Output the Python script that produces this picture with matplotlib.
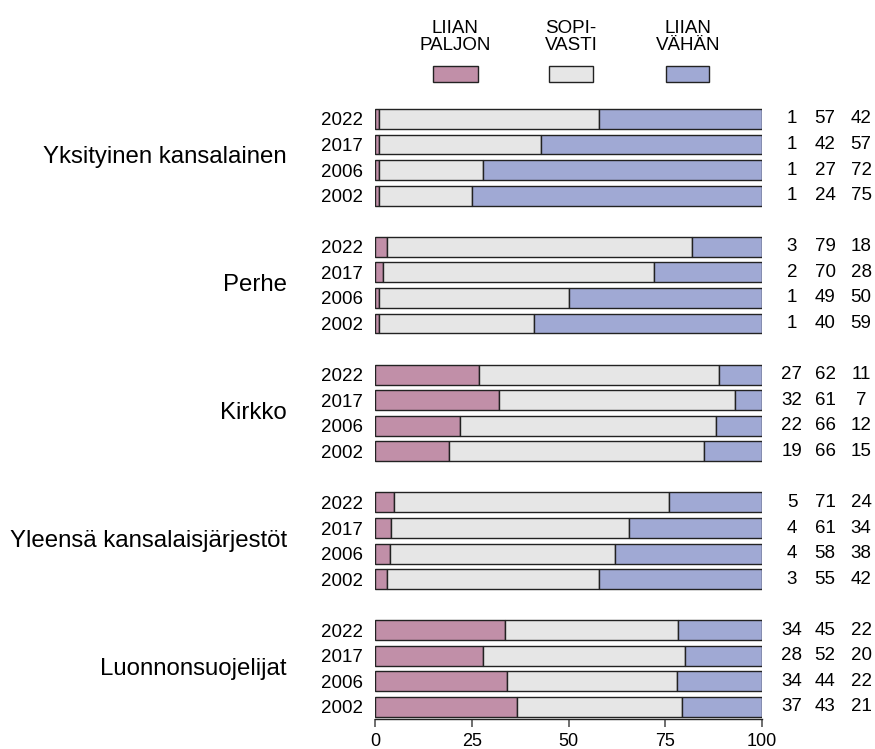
import matplotlib
matplotlib.use('Agg')
import matplotlib.pyplot as plt
from matplotlib.patches import Rectangle
from matplotlib.transforms import blended_transform_factory

plt.rcParams['font.family'] = ['Liberation Sans', 'DejaVu Sans']

# data, top to bottom
groups = ['Yksityinen kansalainen', 'Perhe', 'Kirkko',
          'Yleensä kansalaisjärjestöt', 'Luonnonsuojelijat']
years = ['2022', '2017', '2006', '2002']
too_much = [[1, 1, 1, 1], [3, 2, 1, 1], [27, 32, 22, 19],
            [5, 4, 4, 3], [34, 28, 34, 37]]
just_right = [[57, 42, 27, 24], [79, 70, 49, 40], [62, 61, 66, 66],
              [71, 61, 58, 55], [45, 52, 44, 43]]
too_little = [[42, 57, 72, 75], [18, 28, 50, 59], [11, 7, 12, 15],
              [24, 34, 38, 42], [22, 20, 22, 21]]
legend_labels = ['LIIAN\nPALJON', 'SOPI-\nVASTI', 'LIIAN\nVÄHÄN']
colors = ['#c18fa8', '#e6e6e6', '#a0a9d4']

W, H = 875, 749
fig = plt.figure(figsize=(W / 100, H / 100), dpi=100)
ax = fig.add_axes([375 / W, 1 - 719 / H, 387 / W, 620 / H])

ypos, ylabels = [], []
for g in range(len(groups)):
    for j, yr in enumerate(years):
        y = g * 5 + j
        ypos.append(y)
        ylabels.append(yr)
        vals = [too_much[g][j], just_right[g][j], too_little[g][j]]
        tot = sum(vals)
        left = 0
        for v, c in zip(vals, colors):
            w = v * 100 / tot
            ax.barh(y, w, left=left, height=0.78, color=c,
                    edgecolor='#222222', linewidth=1.0)
            left += w

ax.set_ylim(23.47, -0.78)
ax.set_xlim(0, 100)
ax.set_yticks(ypos)
ax.set_yticklabels(ylabels, fontsize=13.5)
ax.tick_params(axis='y', length=0, pad=9)
ax.set_xticks([0, 25, 50, 75, 100])
ax.set_xticklabels(['0', '25', '50', '75', '100'], fontsize=13)
ax.tick_params(axis='x', length=6, width=1.2, color='#555555', pad=4)
for s in ['left', 'right', 'top']:
    ax.spines[s].set_visible(False)
ax.spines['bottom'].set_linewidth(1.0)
ax.spines['bottom'].set_color('#222222')

trans = blended_transform_factory(fig.transFigure, ax.transData)
for g, name in enumerate(groups):
    ax.text(287 / W, g * 5 + 1.5, name, transform=trans, ha='right',
            va='center', fontsize=17.3)
    for j in range(len(years)):
        vals = [too_much[g][j], just_right[g][j], too_little[g][j]]
        for xc, v in zip([792, 825, 861], vals):
            ax.text(xc / W, g * 5 + j, str(v), transform=trans,
                    ha='center', va='center', fontsize=13.5)

# legend
for (x0, x1, xc), lab, c in zip([(433, 478, 455), (549, 593, 571),
                                  (666, 709, 688)], legend_labels, colors):
    fig.add_artist(Rectangle((x0 / W, 1 - 82 / H), (x1 - x0) / W, 16 / H,
                             transform=fig.transFigure, facecolor=c,
                             edgecolor='#222222', linewidth=1.0))
    fig.text(xc / W, 1 - 37 / H, lab, ha='center', va='center',
             fontsize=13.5, linespacing=1.05)

fig.savefig('out.png', dpi=100)
